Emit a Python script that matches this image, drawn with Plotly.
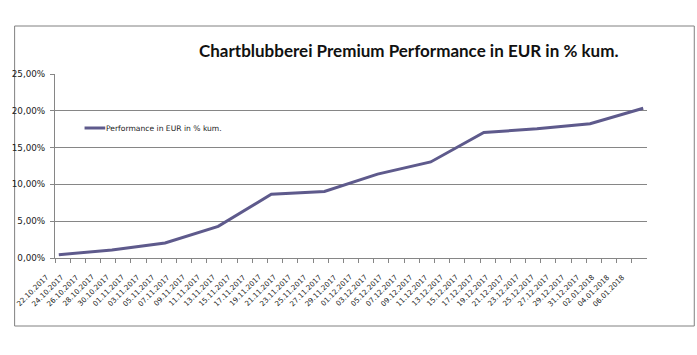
import plotly.graph_objects as go
import pandas as pd

# Data (weekly, Sundays)
dates = ["2017-10-22", "2017-10-29", "2017-11-05", "2017-11-12", "2017-11-19",
         "2017-11-26", "2017-12-03", "2017-12-10", "2017-12-17", "2017-12-24",
         "2017-12-31", "2018-01-07"]
perf = [0.0045, 0.011, 0.0205, 0.043, 0.0865, 0.0905, 0.114, 0.1305,
        0.1705, 0.1755, 0.1825, 0.2035]

tick_dates = ["2017-10-22", "2017-10-24", "2017-10-26", "2017-10-28", "2017-10-30",
              "2017-11-01", "2017-11-03", "2017-11-05", "2017-11-07", "2017-11-09",
              "2017-11-11", "2017-11-13", "2017-11-15", "2017-11-17", "2017-11-19",
              "2017-11-21", "2017-11-23", "2017-11-25", "2017-11-27", "2017-11-29",
              "2017-12-01", "2017-12-03", "2017-12-05", "2017-12-07", "2017-12-09",
              "2017-12-11", "2017-12-13", "2017-12-15", "2017-12-17", "2017-12-19",
              "2017-12-21", "2017-12-23", "2017-12-25", "2017-12-27", "2017-12-29",
              "2017-12-31", "2018-01-02", "2018-01-04", "2018-01-06"]
tick_labels = ["22.10.2017", "24.10.2017", "26.10.2017", "28.10.2017", "30.10.2017",
               "01.11.2017", "03.11.2017", "05.11.2017", "07.11.2017", "09.11.2017",
               "11.11.2017", "13.11.2017", "15.11.2017", "17.11.2017", "19.11.2017",
               "21.11.2017", "23.11.2017", "25.11.2017", "27.11.2017", "29.11.2017",
               "01.12.2017", "03.12.2017", "05.12.2017", "07.12.2017", "09.12.2017",
               "11.12.2017", "13.12.2017", "15.12.2017", "17.12.2017", "19.12.2017",
               "21.12.2017", "23.12.2017", "25.12.2017", "27.12.2017", "29.12.2017",
               "31.12.2017", "02.01.2018", "04.01.2018", "06.01.2018"]

title = "Chartblubberei Premium Performance in EUR in % kum."
series_name = "Performance in EUR in % kum."

LINE = "#5e5a8c"
GRID = "#868686"

# tick marks sit on the slot boundaries (half a day before each labelled date)
tick_marks = [(pd.Timestamp(d) - pd.Timedelta(hours=12)).strftime("%Y-%m-%d %H:%M") for d in tick_dates]

fig = go.Figure()
fig.add_trace(go.Scatter(x=dates, y=perf, mode="lines", name=series_name,
                         line=dict(color=LINE, width=3), showlegend=False))

W, H = 697, 355
ml, mr, mt, mb = 46, 50, 74, 97
pw, ph = W - ml - mr, H - mt - mb

def px_x(p):
    return (p - ml) / pw

def px_y(p):
    return (H - mb - p) / ph

annotations = [
    dict(text="<b>" + title + "</b>", xref="paper", yref="paper",
         x=px_x(405), y=px_y(50), xanchor="center", yanchor="middle",
         showarrow=False, font=dict(family="Lato", size=17, color="#111111")),
    dict(text=series_name, xref="paper", yref="paper",
         x=px_x(96), y=px_y(128), xanchor="left", yanchor="middle",
         showarrow=False, font=dict(family="DejaVu Sans", size=7.6, color="#222222")),
]
for pos, lab in zip(tick_marks, tick_labels):
    annotations.append(dict(
        text=lab, x=pos, xref="x", y=0, yref="paper",
        xanchor="right", yanchor="top", textangle=-45,
        xshift=-2, yshift=-12, showarrow=False,
        font=dict(family="DejaVu Sans", size=7.2, color="#222222"),
    ))

fig.update_layout(
    width=W, height=H,
    margin=dict(l=ml, r=mr, t=mt, b=mb),
    paper_bgcolor="white", plot_bgcolor="white",
    separators=",.",
    font=dict(family="DejaVu Sans", size=8, color="#222222"),
    xaxis=dict(
        type="date",
        range=["2017-10-21 12:00", "2018-01-07 12:00"],
        tickmode="array", tickvals=tick_marks, showticklabels=False,
        ticks="outside", ticklen=4, tickcolor=GRID,
        showgrid=False, showline=True, linecolor=GRID, linewidth=1,
        zeroline=False,
    ),
    yaxis=dict(
        range=[0, 0.25], dtick=0.05, tickformat=".2%",
        ticks="outside", ticklen=4, tickcolor=GRID,
        showgrid=True, gridcolor=GRID, gridwidth=1,
        showline=True, linecolor=GRID, linewidth=1,
        zeroline=False, ticklabelstandoff=3,
        tickfont=dict(family="DejaVu Sans", size=8.8, color="#222222"),
    ),
    shapes=[
        dict(type="rect", xref="paper", yref="paper",
             x0=px_x(5), x1=px_x(695), y0=px_y(326), y1=px_y(26),
             line=dict(color="#808080", width=1), layer="below"),
        dict(type="line", xref="paper", yref="paper",
             x0=px_x(76), x1=px_x(97), y0=px_y(128), y1=px_y(128),
             line=dict(color=LINE, width=3)),
    ],
    annotations=annotations,
)

fig.write_html("out.html", config={"displayModeBar": False},
               post_script="document.body.style.margin='0px';")
